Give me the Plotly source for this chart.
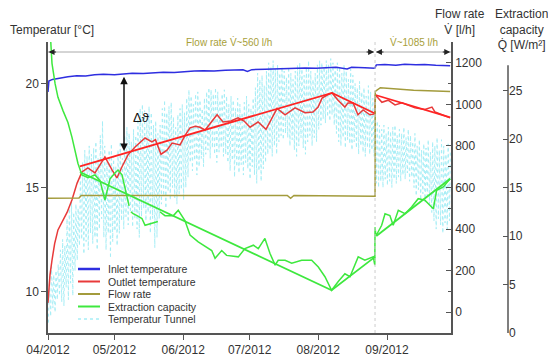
import numpy as np
import pandas as pd
import plotly.graph_objects as go

START = pd.Timestamp("2012-04-01")

# ---------------- data ----------------
inlet_days = [0, 0.4, 2, 5, 9, 13, 17, 21, 25, 30, 34, 38, 43, 47, 52, 57, 61, 66, 70, 75,
              80, 84, 88, 90, 92, 98, 103, 107, 112, 116, 121, 125, 130, 135, 137, 143,
              147.5, 148.2, 152, 157, 161, 166, 170, 175, 181.5]
inlet_temp = [19.6, 20.12, 20.2, 20.27, 20.33, 20.38, 20.36, 20.42, 20.45, 20.43, 20.47, 20.5,
              20.48, 20.52, 20.55, 20.53, 20.57, 20.6, 20.62, 20.6, 20.64, 20.66, 20.66, 20.58,
              20.67, 20.69, 20.71, 20.7, 20.73, 20.75, 20.74, 20.77, 20.78, 20.7, 20.78, 20.76,
              20.74, 20.9, 20.92, 20.88, 20.93, 20.9, 20.92, 20.88, 20.86]

outlet_days = [0, 0.9, 1.8, 3.0, 4.5, 6.5, 8.6, 10.8, 13.1, 15.3, 18.0, 21.2, 23.5, 25.7, 28.9,
               31.1, 33.4, 36.1, 39.3, 43.8, 46.9, 48.5, 51.0, 53.7, 56.0, 59.6, 61.8, 64.1,
               66.5, 68.6, 70.9, 73.5, 76.3, 79.0, 82.5, 85.8, 88.5, 91.2, 94.8, 98.4, 101.0,
               103.4, 107.0, 111.5, 116.0, 119.6, 121.9, 123.7, 126.0, 128.2, 130.9, 134.0,
               135.4, 137.7, 139.9, 142.2, 145.3, 147.5, 147.8, 150.7, 153.5, 156.6, 159.8,
               162.5, 165.6, 170.1, 173.3, 174.7, 178.3, 181.5]
outlet_temp = [9.45, 10.8, 11.5, 12.3, 12.96, 13.4, 13.8, 14.4, 15.2, 15.75, 15.94, 15.7, 16.1,
               16.47, 15.85, 15.46, 16.0, 16.57, 16.95, 17.38, 17.19, 17.3, 16.6, 16.8, 17.14,
               17.05, 17.5, 17.87, 17.95, 17.9, 17.77, 18.1, 18.5, 18.15, 18.2, 18.35, 18.2,
               17.9, 18.15, 17.8, 18.3, 18.8, 18.5, 18.83, 18.6, 18.63, 18.87, 19.3, 19.45,
               19.55, 19.2, 18.87, 19.07, 19.07, 18.5, 18.73, 18.5, 18.54, 19.45, 19.1, 19.2,
               18.97, 19.07, 18.95, 18.83, 18.75, 18.87, 18.63, 18.5, 18.35]

outlet_trend_days = [14.4, 128.2, 147.6, 147.7, 147.8, 181.5]
outlet_trend_temp = [16.02, 19.55, 18.56, None, 19.45, 18.37]

flow_days = [0, 14, 15, 108, 109.5, 111, 147.6, 147.7, 150, 155, 165, 181.5]
flow_rate = [548, 550, 562, 562, 548, 562, 558, 1062, 1080, 1075, 1068, 1062]

capacity_days = [0.5, 1.8, 3.2, 4.5, 6.8, 9.0, 10.8, 12.2, 13.5, 15.3, 18.1, 21.2, 23.5, 25.7,
                 28.0, 30.2, 31.6, 33.4, 35.7, 36.6, 36.8, 37.4, 38.4, 40.2, 42.4, 43.8, 46.9,
                 49.6, 49.9, 50.5, 52.8, 56.6, 58.8, 61.8, 64.1, 67.8, 73.9, 75.4, 78.4, 80.6,
                 85.9, 88.9, 92.7, 94.9, 97.9, 100.2, 102.5, 103.9, 107.0, 110.0, 114.5, 119.0,
                 122.0, 125.0, 128.0, 131.0, 134.0, 136.3, 140.0, 143.0, 146.8, 147.5, 147.6,
                 148.0, 150.6, 152.1, 154.3, 155.8, 158.1, 161.1, 164.1, 167.1, 170.1, 173.9,
                 175.4, 178.4, 181.5]
capacity_val = [33, 27.8, 25.7, 24.3, 22.9, 21.7, 20.2, 18.8, 17.5, 16.3, 16.0, 16.3, 15.7, 13.7,
                15.9, 16.5, 16.8, 16.3, 14.0, 13.1, None, 12.5, 12.3, 12.1, 11.8, 11.1, 11.3,
                11.5, None, 12.5, 12.1, 12.1, 12.65, 11.6, 10.1, 9.4, 8.5, 7.7, 8.5, 8.0,
                7.85, 8.7, 9.05, 8.7, 9.75, 8.2, 7.0, 7.5, 7.5, 7.2, 7.5, 7.5,
                6.8, 5.8, 4.4, 5.3, 6.1, 5.8, 7.85, 7.5, 7.85, 7.0, 10.9,
                10.0, 11.1, 12.3, 12.1, 11.1, 12.65, 12.3, 13.0, 13.85, 13.7, 12.8,
                14.7, 15.05, 15.9]

capacity_trend_days = [14.4, 128.0, 147.6, 147.7, 148.2, 181.5]
capacity_trend_val = [16.6, 4.4, 7.85, None, 10.0, 15.9]

# daily max / min of the tunnel air temperature (one value per day from 01/04/2012)
tunnel_max = [10.5, 11.2, 10.8, 11.0, 11.3, 12.0, 12.5, 12.2, 13.5, 14.0,
              14.4, 13.8, 14.2, 14.0, 15.5, 16.2, 16.8, 16.5, 17.0, 16.6,
              16.9, 17.2, 16.4, 17.5, 18.2, 17.0, 16.2, 16.8, 17.1, 16.5,
              16.0, 16.8, 17.2, 16.4, 17.5, 17.9, 17.6, 17.2, 17.8, 17.5,
              18.3, 18.8, 19.0, 18.7, 18.4, 18.9, 18.6, 18.0, 18.2, 17.6,
              18.0, 18.8, 19.2, 18.6, 18.9, 19.1, 18.4, 17.9, 18.5, 18.8,
              19.0, 18.6, 19.3, 19.7, 19.4, 19.0, 19.5, 19.6, 19.2, 18.8,
              19.3, 19.6, 19.8, 19.7, 19.5, 19.8, 19.6, 19.2, 19.5, 19.7,
              19.4, 19.0, 19.4, 19.2, 18.8, 19.3, 19.0, 18.6, 19.1, 19.4,
              19.0, 18.8, 19.3, 19.8, 20.5, 20.2, 20.4, 19.9, 20.6, 21.0,
              20.8, 21.1, 20.7, 20.9, 20.5, 20.8, 20.6, 20.3, 20.8, 20.5,
              20.2, 20.6, 20.9, 21.0, 20.7, 20.4, 20.8, 21.1, 20.6, 20.2,
              20.5, 20.9, 21.1, 21.0, 20.8, 21.1, 20.9, 21.2, 21.0, 20.8,
              21.0, 20.8, 20.5, 20.9, 20.6, 20.2, 20.7, 20.4, 20.0, 19.8,
              20.1, 19.6, 19.8, 19.4, 19.9, 19.6, 19.3, 19.5, 18.2, 18.0,
              17.8, 18.0, 17.6, 17.9, 17.7, 17.9, 18.0, 17.5, 17.8, 17.6,
              17.9, 17.4, 17.8, 17.5, 17.2, 17.6, 17.0, 17.3, 16.8, 17.1,
              16.9, 17.3, 16.7, 17.2, 17.0, 17.4, 16.8, 17.3, 17.0, 16.6,
              17.1, 16.8]
tunnel_min = [8.5, 8.8, 9.2, 9.0, 9.6, 9.8, 9.5, 9.3, 10.2, 9.6,
              10.4, 9.8, 11.0, 11.5, 12.2, 12.5, 11.8, 12.4, 12.0, 12.8,
              12.3, 12.6, 12.0, 13.0, 13.5, 12.6, 12.0, 12.8, 11.6, 12.4,
              12.9, 12.2, 12.8, 13.4, 13.0, 13.6, 13.2, 13.8, 13.1, 13.5,
              13.0, 12.6, 13.6, 14.0, 13.4, 13.8, 12.8, 13.5, 12.1, 12.6,
              13.5, 14.2, 14.6, 14.0, 14.8, 14.4, 15.0, 14.5, 14.2, 14.7,
              14.9, 14.4, 15.0, 15.5, 16.2, 15.8, 16.3, 15.6, 16.0, 16.4,
              16.0, 16.6, 16.8, 16.4, 16.9, 16.6, 16.2, 16.7, 16.9, 16.5,
              16.6, 16.2, 15.8, 16.3, 15.5, 16.0, 15.7, 16.1, 15.6, 16.2,
              15.9, 15.4, 16.0, 15.6, 15.2, 15.8, 15.3, 15.9, 16.2, 16.6,
              16.8, 16.5, 17.0, 16.6, 17.2, 17.5, 17.3, 17.6, 17.4, 17.0,
              17.3, 16.8, 16.5, 17.0, 17.4, 16.9, 16.6, 17.2, 17.5, 17.0,
              17.4, 17.2, 17.8, 18.0, 18.3, 18.1, 18.4, 18.2, 18.5, 18.0,
              17.6, 17.2, 17.0, 17.4, 16.9, 17.3, 17.1, 16.8, 17.2, 16.9,
              16.6, 17.0, 16.7, 16.5, 16.9, 16.6, 16.8, 16.5, 15.2, 15.0,
              15.3, 15.0, 15.4, 15.1, 15.3, 15.0, 15.4, 15.2, 15.5, 15.3,
              15.6, 15.4, 15.7, 15.3, 15.5, 15.0, 14.6, 14.9, 14.4, 14.7,
              14.3, 14.6, 14.2, 13.8, 13.4, 13.0, 13.5, 13.2, 12.8, 13.3,
              13.0, 13.4]

month_ticks = ["2012-04-01", "2012-05-01", "2012-06-01", "2012-07-01", "2012-08-01", "2012-09-01"]
month_labels = ["04/2012", "05/2012", "06/2012", "07/2012", "08/2012", "09/2012"]
temp_ticks = [10, 15, 20]
flow_ticks = [0, 200, 400, 600, 800, 1000, 1200]
capacity_ticks = [0, 5, 10, 15, 20, 25]

flow_change_day = 147.6
delta_day = 34.3

series_names = ["Inlet temperature", "Outlet temperature", "Flow rate",
                "Extraction capacity", "Temperatur Tunnel"]

# ---------------- helpers ----------------
def to_dates(days):
    return [START + pd.Timedelta(days=float(d)) for d in days]

C_BLUE = "#2e2ee0"
C_RED = "#e83a3a"
C_RED_T = "#ff2424"
C_OLIVE = "#a39b3c"
C_GREEN = "#3ee83e"
C_CYAN = "#a6eef6"
C_AXIS = "#555555"
C_TXT = "#333333"
FONT = "Liberation Sans, Arial, sans-serif"

W, H = 548, 356
PLOT_L, PLOT_T, PLOT_B, PAPER_R = 48, 42, 333, 520   # screen px
ML, MT = PLOT_L, PLOT_T
MB = H - PLOT_B
MR = W - PAPER_R
PW, PH = PAPER_R - PLOT_L, PLOT_B - PLOT_T
PLOT_RIGHT = 451


def px(x):
    return (x - PLOT_L) / PW


def py(y):
    return (PLOT_B - y) / PH


# tunnel zigzag: daily min (early morning) and max (afternoon)
tun_days, tun_vals = [], []
for i, (lo, hi) in enumerate(zip(tunnel_min, tunnel_max)):
    tun_days += [i + 0.2, i + 0.6]
    tun_vals += [lo, hi]

fig = go.Figure()
fig.add_trace(go.Scatter(x=to_dates(tun_days), y=tun_vals, mode="lines", name=series_names[4],
                         line=dict(color=C_CYAN, width=1, dash="dot"), hoverinfo="skip"))
fig.add_trace(go.Scatter(x=to_dates(outlet_days), y=outlet_temp, mode="lines", name=series_names[1],
                         line=dict(color=C_RED, width=1.5)))
fig.add_trace(go.Scatter(x=to_dates(outlet_trend_days), y=outlet_trend_temp, mode="lines",
                         line=dict(color=C_RED_T, width=1.8), connectgaps=False, showlegend=False))
fig.add_trace(go.Scatter(x=to_dates(inlet_days), y=inlet_temp, mode="lines", name=series_names[0],
                         line=dict(color=C_BLUE, width=1.5)))
fig.add_trace(go.Scatter(x=to_dates(flow_days), y=flow_rate, mode="lines", name=series_names[2],
                         yaxis="y2", line=dict(color=C_OLIVE, width=1.5)))
fig.add_trace(go.Scatter(x=to_dates(capacity_days), y=capacity_val, mode="lines", name=series_names[3],
                         yaxis="y3", line=dict(color=C_GREEN, width=1.5), connectgaps=False))
fig.add_trace(go.Scatter(x=to_dates(capacity_trend_days), y=capacity_trend_val, mode="lines",
                         yaxis="y3", line=dict(color=C_GREEN, width=1.8), connectgaps=False,
                         showlegend=False))

x_end = START + pd.Timedelta(days=(PLOT_RIGHT - PLOT_L) / (339 / 153))
x_dom = (PLOT_RIGHT - PLOT_L) / PW
y3_pos = px(508)

axis_common = dict(showline=True, linecolor=C_AXIS, linewidth=1.5, showgrid=False, zeroline=False,
                   tickcolor=C_AXIS, tickwidth=1.2, ticklen=5,
                   tickfont=dict(size=12, color=C_TXT, family=FONT), automargin=False)

fig.update_layout(
    template="none",
    width=W, height=H,
    margin=dict(l=ML, r=MR, t=MT, b=MB, pad=0),
    paper_bgcolor="white", plot_bgcolor="white",
    font=dict(family=FONT, color=C_TXT, size=12),
    showlegend=False,
    xaxis=dict(domain=[0, x_dom], range=[START, x_end], type="date",
               tickmode="array", tickvals=month_ticks, ticktext=month_labels,
               ticks="outside", **axis_common),
    yaxis=dict(range=[8, 22], tickmode="array", tickvals=temp_ticks, ticks="outside",
               **axis_common),
    yaxis2=dict(range=[-100, 1300], overlaying="y", side="right", anchor="x",
                tickmode="array", tickvals=flow_ticks, ticks="inside",
                minor=dict(dtick=100, tick0=0, ticks="inside", ticklen=3, tickcolor=C_AXIS,
                           showgrid=False),
                **axis_common),
    yaxis3=dict(range=[0, 30], overlaying="y", side="right", anchor="free", position=y3_pos,
                tickmode="array", tickvals=capacity_ticks, ticks="inside",
                **{k: v for k, v in axis_common.items() if k != "showline"}, showline=False),
)

shapes = []
# third axis line (only up to ~27.6 W/m²)
shapes.append(dict(type="line", xref="paper", yref="y3", x0=y3_pos, x1=y3_pos, y0=0, y1=27.6,
                   line=dict(color=C_AXIS, width=1.5)))
# vertical dotted line at flow change
chg = START + pd.Timedelta(days=flow_change_day)
shapes.append(dict(type="line", xref="x", yref="paper", x0=chg, x1=chg, y0=0, y1=1,
                   line=dict(color="#cccccc", width=1, dash="dot")))
# flow-rate period double arrows
arrow_y = py(52)
shapes.append(dict(type="line", xref="x", yref="paper", x0=START, x1=chg - pd.Timedelta(hours=10),
                   y0=arrow_y, y1=arrow_y, line=dict(color="#aaaaaa", width=1)))
shapes.append(dict(type="line", xref="x", yref="paper", x0=chg + pd.Timedelta(hours=10), x1=x_end,
                   y0=arrow_y, y1=arrow_y, line=dict(color="#aaaaaa", width=1)))

annotations = []
for xa, off in [(START + pd.Timedelta(hours=6), 9), (chg - pd.Timedelta(hours=10), -9),
                (chg + pd.Timedelta(hours=10), 9), (x_end - pd.Timedelta(hours=8), -9)]:
    annotations.append(dict(x=xa, y=arrow_y, xref="x", yref="paper", text="", showarrow=True,
                            ax=off, ay=0, arrowhead=2, arrowsize=1, arrowwidth=1.2,
                            arrowcolor="#222222", standoff=0))
annotations.append(dict(x=px(184), y=py(50), xref="paper", yref="paper", xanchor="left",
                        yanchor="bottom", text="Flow rate V\u0307~560 l/h", showarrow=False,
                        font=dict(size=10, color="#a8a03a", family=FONT)))
annotations.append(dict(x=px(388), y=py(50), xref="paper", yref="paper", xanchor="left",
                        yanchor="bottom", text="V\u0307~1085 l/h", showarrow=False,
                        font=dict(size=10, color="#a8a03a", family=FONT)))

# delta-theta arrow between inlet temperature and outlet trend
d_top = float(np.interp(delta_day, inlet_days, inlet_temp))
d_bot = float(np.interp(delta_day, outlet_trend_days[:3], outlet_trend_temp[:3]))
d_x = START + pd.Timedelta(days=delta_day)
annotations.append(dict(x=d_x, y=d_top, ax=d_x, ay=d_bot, xref="x", yref="y", axref="x", ayref="y",
                        text="", showarrow=True, arrowside="end+start", arrowhead=2, arrowsize=1,
                        arrowwidth=1.5, arrowcolor="#111111", standoff=3, startstandoff=1))
annotations.append(dict(x=px(131), y=py(108), xref="paper", yref="paper", text="\u0394\u03d1",
                        xanchor="left", showarrow=False, font=dict(size=13, color="#111111",
                                                                   family=FONT)))

# axis titles
annotations.append(dict(x=px(8), y=py(30), xref="paper", yref="paper", text="Temperatur [°C]",
                        xanchor="left", yanchor="middle", showarrow=False,
                        font=dict(size=12, color=C_TXT, family=FONT)))
annotations.append(dict(x=px(460), y=py(22), xref="paper", yref="paper",
                        text="Flow rate<br>V\u0307 [l/h]", xanchor="center", yanchor="middle",
                        showarrow=False, font=dict(size=12, color=C_TXT, family=FONT)))
annotations.append(dict(x=px(521), y=py(29.5), xref="paper", yref="paper",
                        text="Extraction<br>capacity<br>Q\u0307 [W/m²]", xanchor="center",
                        yanchor="middle", showarrow=False,
                        font=dict(size=12, color=C_TXT, family=FONT)))

# legend (drawn compactly)
legend_rows = [269, 281.5, 294, 306.5, 319]
legend_styles = [dict(color=C_BLUE, width=2.5), dict(color=C_RED, width=2),
                 dict(color=C_OLIVE, width=2), dict(color=C_GREEN, width=2),
                 dict(color=C_CYAN, width=1.5, dash="dot")]
for name, ry, st in zip(series_names, legend_rows, legend_styles):
    shapes.append(dict(type="line", xref="paper", yref="paper", x0=px(78), x1=px(100),
                       y0=py(ry), y1=py(ry), line=st))
    annotations.append(dict(x=px(106), y=py(ry), xref="paper", yref="paper", text=name,
                            xanchor="left", yanchor="middle", showarrow=False,
                            font=dict(size=10.5, color=C_TXT, family=FONT)))

fig.update_layout(shapes=shapes, annotations=annotations)
fig.write_html("out.html", config={"displayModeBar": False},
               post_script="document.body.style.margin='0';document.body.style.overflow='hidden';")
